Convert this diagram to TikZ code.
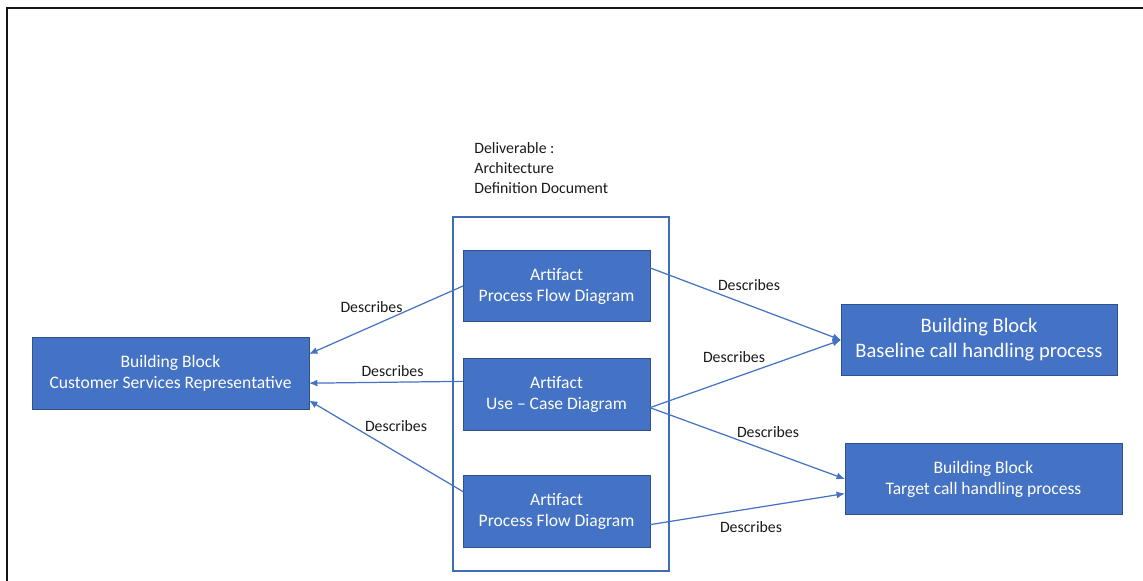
\documentclass[tikz,border=0pt]{standalone}
\usepackage{fontspec}
\setmainfont{Carlito}
\usepackage{tikz}
\usetikzlibrary{arrows.meta}
\definecolor{blockblue}{HTML}{4472C4}
\definecolor{edgeblue}{HTML}{2F528F}
\definecolor{boxblue}{HTML}{3F6BBB}
\definecolor{framegray}{HTML}{141414}
\definecolor{labelgray}{HTML}{1A1A1A}

\begin{document}
\begin{tikzpicture}[x=0.02cm,y=-0.02cm,>={Latex[length=1.7mm,width=1.4mm]},
    every node/.style={font=\fontsize{9}{11.3}\selectfont,text=labelgray},
    block/.style={draw=edgeblue,fill=blockblue,text=white,align=center,inner sep=0pt,outer sep=0pt,
      font=\fontsize{10}{11.9}\selectfont,minimum width=5.54cm,minimum height=1.43cm},
    artifact/.style={block,minimum width=3.74cm},
    describes/.style={->,draw=blockblue,line width=0.7pt}]
        \useasboundingbox (0,0) rectangle (1143,581);
        \draw[framegray,line width=1.7pt] (7,581) -- (7,8) -- (1143,8);
        % deliverable with its artifacts
        \node[draw=boxblue,line width=0.75pt,minimum width=4.32cm,minimum height=7.08cm] (deliv) at (561,394) {};
        \node[anchor=west,align=left,inner sep=0pt] (delivtext) at (474,168) {Deliverable :\\Architecture\\Definition Document};
        \node[artifact] (art1) at (556.5,286) {Artifact\\Process Flow Diagram};
        \node[artifact] (art2) at (556.5,394.5) {Artifact\\Use -- Case Diagram};
        \node[artifact] (art3) at (556.5,511.5) {Artifact\\Process Flow Diagram};
        % building blocks
        \node[block] (csr) at (170.5,373.5) {Building Block\\Customer Services Representative};
        \node[block,minimum width=5.52cm,font=\fontsize{11.7}{14.2}\selectfont] (base) at (979,340) {Building Block\\Baseline call handling process};
        \node[block] (target) at (983.5,479) {Building Block\\Target call handling process};
        % relations
        \draw[describes] (art1.west) -- (csr.8);
        \draw[describes] (art2.172) -- (csr.-4);
        \draw[describes] (art3.168) -- (csr.-11);
        \draw[describes] (art1.11) -- (base.west);
        \draw[describes] (art2.-8) -- (base.west);
        \draw[describes] (art2.-8) -- (target.west);
        \draw[describes] (art3.-8) -- (target.186);
        \node (d1) at (371.5,307) {Describes};
        \node (d2) at (392.5,371.5) {Describes};
        \node (d3) at (396,426) {Describes};
        \node (d4) at (749,285) {Describes};
        \node (d5) at (734,357.5) {Describes};
        \node (d6) at (768,432.5) {Describes};
        \node (d7) at (751,527.5) {Describes};
      \end{tikzpicture}
\end{document}
